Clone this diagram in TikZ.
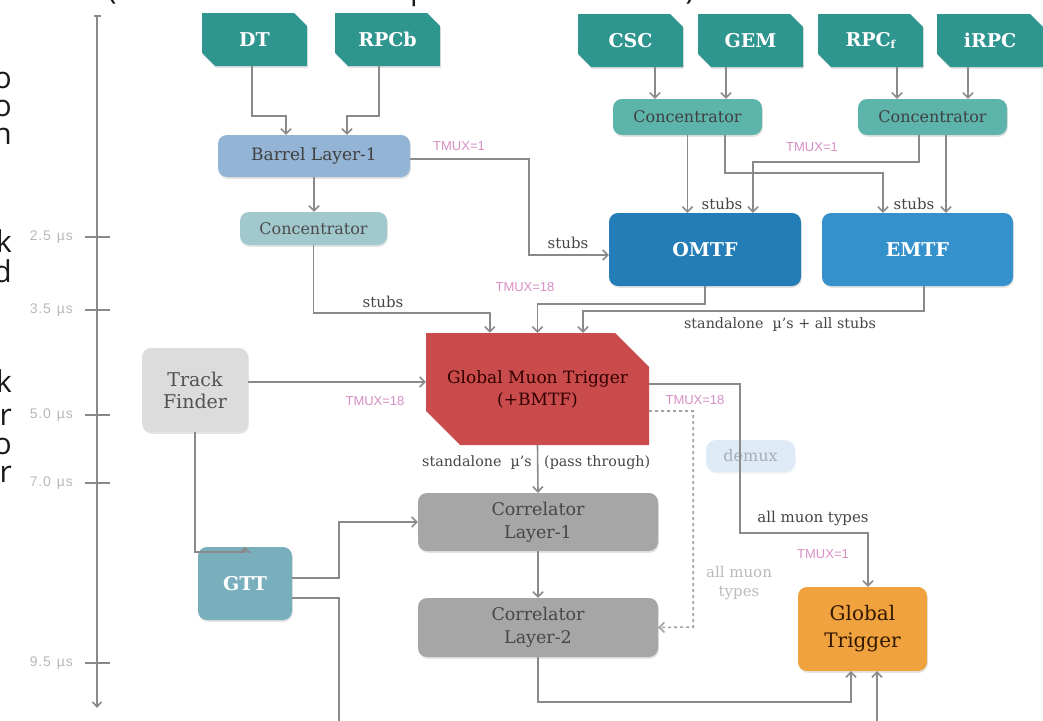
\documentclass[tikz,border=0pt]{standalone}
\usepackage{fontspec}
\setmainfont{DejaVu Serif}
\newfontfamily\lsans{Liberation Sans}
\newfontfamily\lsanswide[LetterSpace=6]{Liberation Sans}
\newfontfamily\osans{Open Sans}
\usetikzlibrary{arrows.meta,shapes.misc,shadows,calc}
\definecolor{srcteal}{HTML}{2F958F}
\definecolor{barrel}{HTML}{93B4D4}
\definecolor{concL}{HTML}{A0C8CD}
\definecolor{concR}{HTML}{5DB4AB}
\definecolor{omtf}{HTML}{247DB6}
\definecolor{emtf}{HTML}{3591CB}
\definecolor{gmt}{HTML}{C94B4B}
\definecolor{tf}{HTML}{DCDCDC}
\definecolor{gtt}{HTML}{79AFBD}
\definecolor{corr}{HTML}{A6A6A6}
\definecolor{gt}{HTML}{F0A23F}
\definecolor{demux}{HTML}{DEEAF6}
\definecolor{linegray}{HTML}{8A8A8A}
\definecolor{labgray}{HTML}{454545}
\definecolor{tmuxpink}{HTML}{D88EC4}
\definecolor{ticklab}{HTML}{B8B8B8}
\definecolor{lightlab}{HTML}{A8A8A8}
\definecolor{demuxtext}{HTML}{A9AEB6}
\begin{document}
\begin{tikzpicture}[x=1pt,y=-1pt,
  dshadow/.style={drop shadow={shadow xshift=0.8pt,shadow yshift=-1.8pt,opacity=0.22}},
  srcbox/.style={chamfered rectangle,chamfered rectangle corners={north east,south west},
    chamfered rectangle xsep=6.5pt,chamfered rectangle ysep=6.5pt,fill=srcteal,text=white,
    font=\bfseries\fontsize{19}{22}\selectfont,minimum width=105pt,minimum height=53pt,
    inner sep=0pt,dshadow},
  rbox/.style={rectangle,rounded corners=9pt,inner sep=0pt,align=center,dshadow},
  lab/.style={text=labgray,font=\fontsize{15}{17}\selectfont,inner sep=1pt},
  tmux/.style={text=tmuxpink,font=\lsans\fontsize{13}{15}\selectfont,inner sep=1pt},
  ticklabel/.style={text=ticklab,font=\lsanswide\fontsize{14}{16}\selectfont,anchor=east,inner sep=0pt},
  frag/.style={text=black!90,font=\osans\fontsize{30}{34}\selectfont,inner sep=0pt},
  arr/.style={draw=linegray,line width=1.6pt,-{Straight Barb[length=5pt,width=10pt]}},
  dasharr/.style={draw=linegray!80,line width=1.6pt,dash pattern=on 3pt off 3pt,-{Straight Barb[length=5pt,width=10pt]}},
  axisline/.style={draw=linegray,line width=1.6pt}]
\useasboundingbox (0,0) rectangle (1043,720);
\clip (0,0) rectangle (1043,720);

% cropped text fragments
\node[frag,anchor=base east] (f1) at (12,88) {o};
\node[frag,anchor=base east] (f2) at (12,116) {o};
\node[frag,anchor=base east] (f3) at (12,144) {n};
\node[frag,anchor=base east] (f4) at (12,252) {k};
\node[frag,anchor=base east] (f5) at (12,282) {d};
\node[frag,anchor=base east] (f6) at (12,392) {k};
\node[frag,anchor=base east] (f7) at (12,425) {r};
\node[frag,anchor=base east] (f8) at (12,454) {o};
\node[frag,anchor=base east] (f9) at (12,482) {r};
\node[frag,anchor=base] (f10) at (112,-1) {(};
\node[frag,anchor=base west] (f11) at (410,-1) {p};
\node[frag,anchor=base] (f12) at (690,-1) {)};

% time axis
\draw[axisline,{Bar[width=7pt]}-{Straight Barb[length=5pt,width=9pt]}] (97,15) -- (97,708);
\foreach \yy/\tt in {237/2.5,310/3.5,415/5.0,483/7.0,663/9.5}{
  \draw[axisline] (85,\yy) -- (110,\yy);
  \node[ticklabel] at (73,\yy) {\tt\hspace{6pt}µs};
}

% source boxes
\node[srcbox] (DT) at (254.5,39.5) {DT};
\node[srcbox] (RPCb) at (387.5,39.5) {RPCb};
\node[srcbox] (CSC) at (630.5,40.5) {CSC};
\node[srcbox] (GEM) at (750.5,40.5) {GEM};
\node[srcbox] (RPCf) at (870.5,40.5) {RPC\raisebox{-1.5pt}{\fontsize{11}{11}\selectfont f}};
\node[srcbox,minimum width=106pt] (iRPC) at (990,40.5) {iRPC};

% processing boxes
\node[rbox,fill=barrel,text=black!75,minimum width=192pt,minimum height=42pt,font=\fontsize{17}{20}\selectfont] (BL) at (314,156) {Barrel Layer-1};
\node[rbox,fill=concL,text=black!70,minimum width=147pt,minimum height=33pt,font=\fontsize{16}{18}\selectfont] (CL) at (313.5,228.5) {Concentrator};
\node[rbox,fill=concR,text=black!75,minimum width=149pt,minimum height=36pt,font=\fontsize{16}{18}\selectfont] (CR1) at (687.5,117) {Concentrator};
\node[rbox,fill=concR,text=black!75,minimum width=149pt,minimum height=36pt,font=\fontsize{16}{18}\selectfont] (CR2) at (932.5,117) {Concentrator};
\node[rbox,fill=omtf,text=white,minimum width=192pt,minimum height=73pt,font=\bfseries\fontsize{19}{22}\selectfont] (OMTF) at (705,249.5) {OMTF};
\node[rbox,fill=emtf,text=white,minimum width=191pt,minimum height=73pt,font=\bfseries\fontsize{19}{22}\selectfont] (EMTF) at (917.5,249.5) {EMTF};
\node[chamfered rectangle,chamfered rectangle corners={north east,south west},
  chamfered rectangle xsep=17pt,chamfered rectangle ysep=17pt,fill=gmt,text=black!80!red,
  minimum width=223pt,minimum height=112pt,inner sep=0pt,align=center,
  font=\fontsize{17}{22}\selectfont] (GMT) at (537.5,389) {Global Muon Trigger\\(+BMTF)};
\node[rbox,fill=tf,text=black!68,minimum width=106pt,minimum height=84pt,font=\fontsize{19}{22}\selectfont] (TF) at (195,390) {Track\\Finder};
\node[rbox,fill=gtt,text=white,minimum width=94pt,minimum height=73pt,font=\bfseries\fontsize{19}{22}\selectfont] (GTT) at (245,583.5) {GTT};
\node[rbox,fill=corr,text=black!72,minimum width=240pt,minimum height=58pt,font=\fontsize{17.5}{23}\selectfont] (C1) at (538,522) {Correlator\\Layer-1};
\node[rbox,fill=corr,text=black!72,minimum width=240pt,minimum height=59pt,font=\fontsize{17.5}{23}\selectfont] (C2) at (538,627.5) {Correlator\\Layer-2};
\node[rbox,fill=gt,text=black!80!orange,minimum width=129pt,minimum height=84pt,font=\fontsize{20}{27}\selectfont] (GT) at (862.5,629) {Global\\Trigger};
\node[rectangle,rounded corners=10pt,inner sep=0pt,fill=demux,text=demuxtext,minimum width=89pt,minimum height=32pt,font=\fontsize{16}{18}\selectfont,drop shadow={shadow xshift=0.8pt,shadow yshift=-1.5pt,opacity=0.1}] (DMX) at (750.5,456) {demux};

% labels
\node[lab] (s1) at (568,243) {stubs};
\node[lab] (s2) at (383,302) {stubs};
\node[lab] (s3) at (722,204) {stubs};
\node[lab] (s4) at (914,204) {stubs};
\node[lab,font=\fontsize{14.3}{17}\selectfont] (s5) at (780,325) {standalone~ µ's + all stubs};
\node[lab,anchor=east,font=\fontsize{14.3}{17}\selectfont] (s6) at (533,463) {standalone~ µ's};
\node[lab,anchor=west,font=\fontsize{14.3}{17}\selectfont] (s7) at (543,463) {(pass through)};
\node[lab] (s8) at (813,518) {all muon types};
\node[lab,text=lightlab!80,align=center,font=\fontsize{15}{19}\selectfont] (s9) at (739,583) {all muon\\types};
\node[tmux] (t1) at (459,146) {TMUX=1};
\node[tmux] (t2) at (812,147) {TMUX=1};
\node[tmux] (t3) at (525,287) {TMUX=18};
\node[tmux] (t4) at (375,401) {TMUX=18};
\node[tmux] (t5) at (695,400) {TMUX=18};
\node[tmux] (t6) at (823,554) {TMUX=1};

% connectors: sources to barrel / concentrators
\draw[arr] ([xshift=-2.5pt]DT.south) -- ++(0,50) -| ([xshift=-28pt]BL.north);
\draw[arr] ([xshift=-8.5pt]RPCb.south) -- ++(0,50) -| ([xshift=33pt]BL.north);
\draw[arr] ([xshift=24.5pt]CSC.south) -- ([xshift=24.5pt]CSC.south |- CR1.north);
\draw[arr] ([xshift=-24.5pt]GEM.south) -- ([xshift=-24.5pt]GEM.south |- CR1.north);
\draw[arr] ([xshift=26.5pt]RPCf.south) -- ([xshift=26.5pt]RPCf.south |- CR2.north);
\draw[arr] ([xshift=-22pt]iRPC.south) -- ([xshift=-22pt]iRPC.south |- CR2.north);

% barrel
\draw[arr] (BL.south) -- (BL.south |- CL.north);
\draw[arr] ([yshift=-3pt]BL.east) -| ++(119,96) -- ([yshift=-5.5pt]OMTF.west);
\draw[arr] (CL.south) -- ++(0,68) -| ([xshift=64pt]GMT.north west);

% endcap concentrators to track finders
\draw[arr] (CR1.south) -- (CR1.south |- OMTF.north);
\draw[arr] ([xshift=37.5pt]CR1.south) -- ++(0,38) -| ([xshift=-34.5pt]EMTF.north);
\draw[arr] ([xshift=-13.5pt]CR2.south) -- ++(0,27) -| ([xshift=48pt]OMTF.north);
\draw[arr] ([xshift=13.5pt]CR2.south) -- ([xshift=13.5pt]CR2.south |- EMTF.north);

% OMTF / EMTF to GMT
\draw[arr] (OMTF.south) -- ++(0,18) -| (GMT.north);
\draw[arr] ([xshift=6.5pt]EMTF.south) -- ++(0,24.5) -| ([xshift=45.5pt]GMT.north);

% track finder
\draw[arr] ([yshift=8pt]TF.east) -- ([yshift=8pt]TF.east -| GMT.west);
\draw[arr] (TF.south) -- ++(0,120) -| (GTT.north);

% GMT outputs
\draw[arr] (GMT.south) -- (C1.north);
\draw[arr] ([yshift=5pt]GMT.east) -| ++(91,149) -| ([xshift=5.5pt]GT.north);
\draw[dasharr] ([yshift=-22pt]GMT.east) -| ++(44,216) -- (C2.east);

% correlator chain
\draw[arr] (C1.south) -- (C2.north);
\draw[arr] ([yshift=5.5pt]GTT.east) -- ++(47,0) |- (C1.west);
\draw[arr] ([yshift=-14.5pt]GTT.east) -| ++(47,140) -| ([xshift=14.5pt]GT.south);
\draw[arr] (C2.south) -- ++(0,45) -| ([xshift=-11.5pt]GT.south);
\end{tikzpicture}
\end{document}
